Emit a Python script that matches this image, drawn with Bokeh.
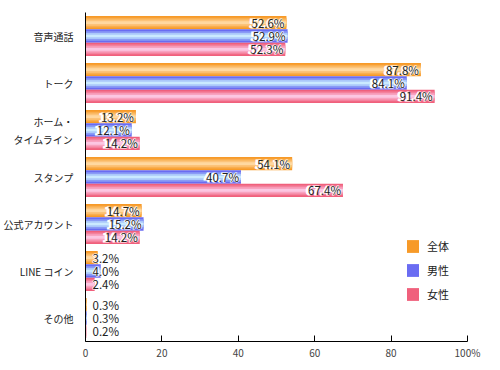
from bokeh.plotting import figure
from bokeh.models import ColumnDataSource, Range1d, FixedTicker, Legend, LegendItem
from bokeh.core.properties import value
from bokeh.embed import file_html
from bokeh.resources import INLINE

categories = ["音声通話", "トーク", "ホーム・\nタイムライン", "スタンプ", "公式アカウント", "LINE コイン", "その他"]
series_names = ["全体", "男性", "女性"]
all_vals = [52.6, 87.8, 13.2, 54.1, 14.7, 3.2, 0.3]
male_vals = [52.9, 84.1, 12.1, 40.7, 15.2, 4.0, 0.3]
female_vals = [52.3, 91.4, 14.2, 67.4, 14.2, 2.4, 0.2]
x_ticks = [0, 20, 40, 60, 80, 100]

series = [all_vals, male_vals, female_vals]
# gradient palettes: edge -> centre
palettes = [
    ["#f79a28", "#f9ae4f", "#fcc379", "#ffd8a0"],
    ["#6a6cf2", "#8a9bf6", "#aac8fa", "#caeaff"],
    ["#f0607c", "#f4819d", "#f8a3c0", "#fcc6e2"],
]
layer_frac = [1.0, 0.72, 0.46, 0.2]
bar_h = 0.285
offsets = [-bar_h, 0.0, bar_h]
FONT = "Noto Sans CJK JP"

p = figure(width=492, height=362, output_backend="svg", toolbar_location=None,
           x_range=Range1d(0, 100), y_range=Range1d(len(categories), 0),
           min_border_left=85, min_border_right=25, min_border_top=12, min_border_bottom=15)
p.xgrid.visible = False
p.ygrid.visible = False
p.outline_line_color = None

legend_items = []
for s, vals in enumerate(series):
    ys = [i + 0.5 + offsets[s] for i in range(len(categories))]
    src = ColumnDataSource(dict(y=ys, v=vals))
    first = None
    for k, frac in enumerate(layer_frac):
        r = p.hbar(y="y", right="v", left=0, height=bar_h * frac, source=src,
                   fill_color=palettes[s][k], line_color=None)
        if first is None:
            first = r
    legend_items.append(LegendItem(label=series_names[s], renderers=[first]))

    big = [i for i, v in enumerate(vals) if v >= 10]
    small = [i for i, v in enumerate(vals) if v < 10]
    bsrc = ColumnDataSource(dict(y=[ys[i] for i in big], x=[vals[i] for i in big],
                                 t=[f"{vals[i]:.1f}%" for i in big]))
    ssrc = ColumnDataSource(dict(y=[ys[i] for i in small], x=[0 for i in small],
                                 t=[f"{vals[i]:.1f}%" for i in small]))
    for src_, align, off in ((bsrc, "right", -2), (ssrc, "left", 7)):
        # white halo underneath
        p.text(x="x", y="y", text="t", source=src_, text_align=align, text_baseline="middle",
               x_offset=off, text_font=value(FONT), text_font_size="11.5px", text_color="white",
               text_font_style="bold", text_outline_color="white")
        p.text(x="x", y="y", text="t", source=src_, text_align=align, text_baseline="middle",
               x_offset=off, text_font=value(FONT), text_font_size="11.5px", text_color="#222222")

# axes
p.yaxis.ticker = FixedTicker(ticks=[i + 0.5 for i in range(len(categories))])
p.yaxis.major_label_overrides = {i + 0.5: c for i, c in enumerate(categories)}
p.yaxis.major_tick_line_color = None
p.yaxis.minor_tick_line_color = None
p.yaxis.axis_line_color = "#000000"
p.yaxis.major_label_text_font = FONT
p.yaxis.major_label_text_font_size = "10px"
p.yaxis.major_label_text_color = "#222222"
p.yaxis.major_label_standoff = 6

p.xaxis.ticker = FixedTicker(ticks=x_ticks)
p.xaxis.major_label_overrides = {100: "100%"}
p.xaxis.major_tick_in = 6
p.xaxis.major_tick_out = 0
p.xaxis.minor_tick_line_color = None
p.xaxis.axis_line_color = "#000000"
p.xaxis.major_tick_line_color = "#000000"
p.xaxis.major_label_text_font = FONT
p.xaxis.major_label_text_font_size = "10px"
p.xaxis.major_label_text_color = "#444444"
p.xaxis.major_label_standoff = 3

legend = Legend(items=legend_items, location=(320, 39), orientation="vertical",
                glyph_width=15, glyph_height=16, spacing=8, padding=0, margin=0,
                label_standoff=7, label_text_font=FONT, label_text_font_size="11px",
                label_text_color="#222222", border_line_color=None,
                background_fill_alpha=0)
p.add_layout(legend, "center")

open("out.html", "w").write(file_html(p, INLINE))
